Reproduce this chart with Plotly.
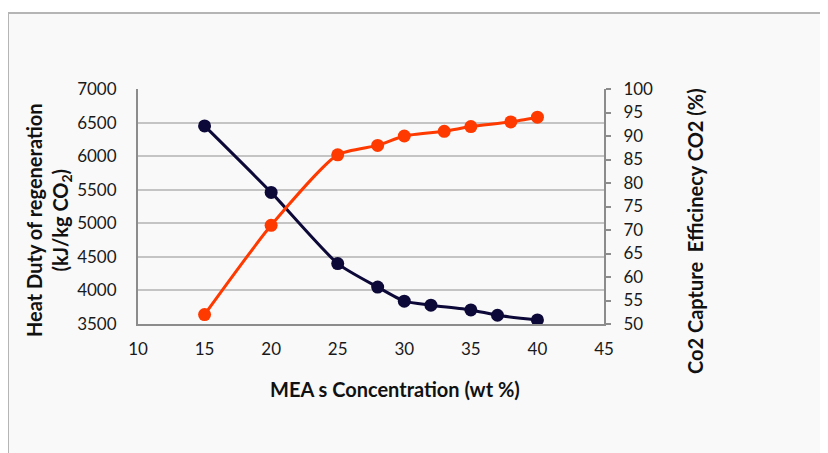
import plotly.graph_objects as go

# heat duty (left axis)
mea_heat = [15, 20, 25, 28, 30, 32, 35, 37, 40]
heat_duty = [6450, 5460, 4400, 4050, 3840, 3780, 3710, 3630, 3560]

# capture efficiency (right axis)
mea_eff = [15, 20, 25, 28, 30, 33, 35, 38, 40]
capture_eff = [52, 71, 86, 88, 90, 91, 92, 93, 94]

navy = "#0c0838"
orange = "#fe3a00"
font = "Lato, 'Open Sans', sans-serif"

# plot area in window pixels (page has 8px body margin)
L, R, T, B = 138, 604, 89, 324
W, H = R - L, B - T
off = 8

fig = go.Figure()
fig.add_trace(go.Scatter(x=mea_heat, y=heat_duty, mode="lines+markers",
                         line=dict(color=navy, width=3, shape="spline", smoothing=0.6),
                         marker=dict(color=navy, size=13), yaxis="y"))
fig.add_trace(go.Scatter(x=mea_eff, y=capture_eff, mode="lines+markers",
                         line=dict(color=orange, width=3, shape="spline", smoothing=0.6),
                         marker=dict(color=orange, size=13), yaxis="y2"))

fig.update_layout(
    width=828, height=453,
    margin=dict(l=L - off, r=828 - (R - off), t=T - off, b=453 - (B - off)),
    paper_bgcolor="white", plot_bgcolor="rgba(0,0,0,0)",
    showlegend=False,
    font=dict(family=font, size=17, color="#1a1a1a"),
    xaxis=dict(range=[10, 45], dtick=5, tick0=10, showgrid=False, zeroline=False,
               showline=True, linecolor="#8c8c8c", linewidth=2,
               ticks="", ticklabelstandoff=9),
    yaxis=dict(range=[3500, 7000], dtick=500, showgrid=True, gridcolor="#c4c4c4",
               gridwidth=2, zeroline=False, showline=True, linecolor="#8c8c8c",
               linewidth=2, ticks="", ticklabelstandoff=16),
    yaxis2=dict(range=[50, 100], dtick=5, overlaying="y", side="right",
                showgrid=False, zeroline=False, showline=True, linecolor="#8c8c8c",
                linewidth=2, ticks="outside", ticklen=5, tickcolor="#8c8c8c",
                tickwidth=2, ticklabelstandoff=9),
)


def px_x(x):
    return (x - L) / W


def px_y(y):
    return (B - y) / H


fig.add_annotation(text="<b>MEA s Concentration (wt %)</b>",
                   x=px_x(395), y=px_y(389), xanchor="center", yanchor="middle",
                   xref="paper", yref="paper", showarrow=False,
                   font=dict(size=20, color="#111111"))
fig.add_annotation(text="<b>Heat Duty of regeneration</b><br><b>(kJ/kg CO<sub>2</sub>)</b>",
                   x=px_x(48), y=px_y(220), xanchor="center", yanchor="middle",
                   xref="paper", yref="paper", showarrow=False, textangle=-90,
                   font=dict(size=20, color="#111111"))
fig.add_annotation(text="<b>Co2 Capture  Efficinecy CO2 (%)</b>",
                   x=px_x(695), y=px_y(231), xanchor="center", yanchor="middle",
                   xref="paper", yref="paper", showarrow=False, textangle=-90,
                   font=dict(size=20, color="#111111"))

# outer chart frame
fig.add_shape(type="rect", xref="paper", yref="paper",
              x0=px_x(8), x1=px_x(845), y0=px_y(470), y1=px_y(13),
              fillcolor="#f9f9f9", line=dict(color="#b5b5b5", width=2), layer="below")

fig.write_html("out.html")
